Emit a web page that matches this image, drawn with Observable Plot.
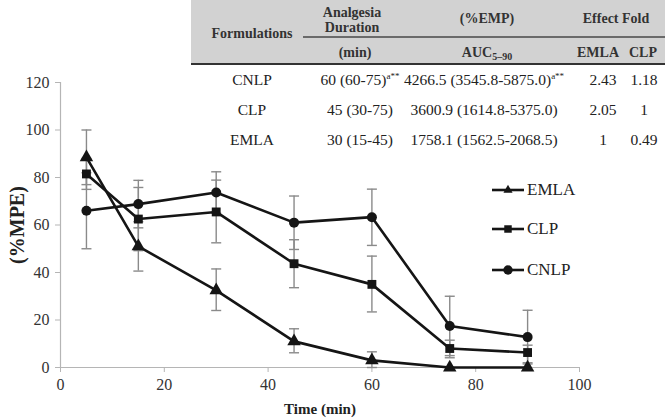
<!DOCTYPE html>
<html>
<head>
<meta charset="utf-8">
<script src="https://cdn.jsdelivr.net/npm/d3@7"></script>
<script src="https://cdn.jsdelivr.net/npm/@observablehq/plot@0.6"></script>
<style>
  body { margin: 0; background: #fff; }
  #wrap { position: relative; width: 665px; height: 419px; font-family: "Liberation Serif", "Times New Roman", serif; color: #222; overflow: hidden; }
  #wrap svg, #wrap svg text { font-family: "Liberation Serif", "Times New Roman", serif !important; }
  .abs { position: absolute; white-space: nowrap; }
  .c { transform: translate(-50%, -50%); }
  .b { font-weight: bold; }
  sup { font-size: 9px; vertical-align: 6px; line-height: 0; }
  sub { font-size: 10px; vertical-align: -3px; line-height: 0; }
</style>
</head>
<body>
<div id="wrap"></div>
<script>
// ---- data ----
const times = [5, 15, 30, 45, 60, 75, 90];
const emlaMean = [88.5, 51, 32.5, 11, 3, 0, 0];
const emlaHi   = [100, 61.4, 41.5, 16.3, 6.6, 0, 0];
const emlaLo   = [77, 40.6, 24, 6.2, 0, 0, 0];
const clpMean  = [81.5, 62.5, 65.5, 43.7, 35, 8, 6.3];
const clpHi    = [88, 75.8, 78.9, 53.8, 46.9, 11.5, 9.4];
const clpLo    = [75, 49.2, 52.5, 33.6, 23.4, 4.1, 2.0];
const cnlpMean = [66, 68.8, 73.7, 61, 63.3, 17.5, 12.8];
const cnlpHi   = [82, 78.8, 82.4, 72.2, 75.1, 30, 24.1];
const cnlpLo   = [50, 58.8, 65, 49.7, 51.4, 5, 1.5];
const seriesNames = ["EMLA", "CLP", "CNLP"];
const seriesSymbols = ["triangle", "square", "circle"];
const xTicks = [0, 20, 40, 60, 80, 100];
const yTicks = [0, 20, 40, 60, 80, 100, 120];

// table
const tblFormulations = ["CNLP", "CLP", "EMLA"];
const tblDuration = ["60 (60-75)", "45 (30-75)", "30 (15-45)"];
const tblDurationSup = ["a**", "", ""];
const tblAUC = ["4266.5 (3545.8-5875.0)", "3600.9 (1614.8-5375.0)", "1758.1 (1562.5-2068.5)"];
const tblAUCSup = ["a**", "", ""];
const tblFoldEMLA = ["2.43", "2.05", "1"];
const tblFoldCLP = ["1.18", "1", "0.49"];

// ---- build rows ----
const meanSets = [emlaMean, clpMean, cnlpMean];
const hiSets = [emlaHi, clpHi, cnlpHi];
const loSets = [emlaLo, clpLo, cnlpLo];
const rows = [];
seriesNames.forEach((s, i) => times.forEach((t, j) => rows.push({
  series: s, symbol: seriesSymbols[i], time: t, y: meanSets[i][j], hi: hiSets[i][j], lo: loSets[i][j]
})));
const errRows = rows.filter(d => d.hi !== d.lo);
const capSymbol = { draw(ctx, size) { const w = 5; ctx.moveTo(-w, 0); ctx.lineTo(w, 0); } };

const chart = Plot.plot({
  width: 665, height: 419,
  marginLeft: 60, marginRight: 86, marginTop: 82, marginBottom: 52,
  style: { fontFamily: "Liberation Serif, Times New Roman, serif", fontSize: "16px", color: "#333", background: "transparent" },
  x: { domain: [0, 100] },
  y: { domain: [0, 120] },
  symbol: { domain: seriesNames, range: seriesSymbols },
  marks: [
    Plot.ruleY([0], { stroke: "#b5b5b5", strokeWidth: 1.2 }),
    Plot.ruleX([0], { stroke: "#b5b5b5", strokeWidth: 1.2 }),
    Plot.axisY({ ticks: yTicks, tickSize: 5, tickPadding: 6, stroke: "#b5b5b5", fill: "#333", label: null, fontSize: 16, fontVariant: "normal" }),
    Plot.axisX({ ticks: xTicks, tickSize: 5, tickPadding: 6, stroke: "#b5b5b5", fill: "#333", label: null, fontSize: 16, fontVariant: "normal" }),
    Plot.ruleX(errRows, { x: "time", y1: "lo", y2: "hi", stroke: "#8a8a8a", strokeWidth: 1.4 }),
    Plot.dot(errRows, { x: "time", y: "hi", symbol: () => capSymbol, stroke: "#8a8a8a", strokeWidth: 1.4, r: 4 }),
    Plot.dot(errRows, { x: "time", y: "lo", symbol: () => capSymbol, stroke: "#8a8a8a", strokeWidth: 1.4, r: 4 }),
    Plot.line(rows, { x: "time", y: "y", z: "series", stroke: "#151515", strokeWidth: 2.6 }),
    Plot.dot(rows, { x: "time", y: "y", symbol: "series", fill: "#151515", stroke: "none", r: 5 })
  ]
});

const wrap = document.getElementById("wrap");
chart.style.position = "absolute";
chart.style.left = "0px";
chart.style.top = "0px";
wrap.appendChild(chart);

function addDiv(html, left, top, cls, css) {
  const d = document.createElement("div");
  d.className = "abs " + (cls || "");
  d.innerHTML = html;
  d.style.left = left + "px";
  d.style.top = top + "px";
  if (css) Object.assign(d.style, css);
  wrap.appendChild(d);
  return d;
}

// axis titles
addDiv("Time (min)", 320, 409, "c b", { fontSize: "15px", color: "#222" });
addDiv("(%MPE)", 17, 225, "b", { fontSize: "20px", color: "#222", transform: "translate(-50%, -50%) rotate(-90deg)" });

// legend
const leg = d3.select(wrap).append("svg")
  .style("position", "absolute").style("left", "480px").style("top", "170px")
  .attr("width", 60).attr("height", 120);
const legY = [20, 59, 100];
seriesNames.forEach((s, i) => {
  leg.append("line").attr("x1", 12).attr("x2", 44).attr("y1", legY[i]).attr("y2", legY[i])
    .attr("stroke", "#151515").attr("stroke-width", 2.6);
  leg.append("path").attr("transform", `translate(28,${legY[i]})`)
    .attr("d", d3.symbol(i === 0 ? d3.symbolTriangle : i === 1 ? d3.symbolSquare : d3.symbolCircle, i === 0 ? 36 : i === 1 ? 56 : 70)())
    .attr("fill", "#151515");
  addDiv(s, 527, 170 + legY[i], "", { fontSize: "17px", color: "#222", transform: "translateY(-50%)" });
});

// table
addDiv("", 191, 0, "", { width: "474px", height: "63px", background: "#d2d2d2" });
addDiv("", 303, 36, "", { width: "362px", height: "1.5px", background: "#6a6a6a" });
addDiv("", 191, 63, "", { width: "474px", height: "2px", background: "#333" });
const hdr = { fontSize: "14px", color: "#333", lineHeight: "15px", textAlign: "center" };
addDiv("Formulations", 252, 33, "c b", hdr);
addDiv("Analgesia<br>Duration", 352, 20, "c b", hdr);
addDiv("(min)", 355, 52, "c b", hdr);
addDiv("(%EMP)", 487, 18, "c b", hdr);
addDiv("AUC<sub>5–90</sub>", 487, 52, "c b", hdr);
addDiv("Effect Fold", 616, 18, "c b", hdr);
addDiv("EMLA", 598, 52, "c b", hdr);
addDiv("CLP", 643, 52, "c b", hdr);
const rowY = [80, 110, 140];
const cell = { fontSize: "15.5px", color: "#222" };
tblFormulations.forEach((f, i) => {
  addDiv(f, 252, rowY[i], "c", cell);
  addDiv(tblDuration[i] + (tblDurationSup[i] ? "<sup>" + tblDurationSup[i] + "</sup>" : ""), 360, rowY[i], "c", cell);
  addDiv(tblAUC[i] + (tblAUCSup[i] ? "<sup>" + tblAUCSup[i] + "</sup>" : ""), 484, rowY[i], "c", cell);
  addDiv(tblFoldEMLA[i], 603, rowY[i], "c", cell);
  addDiv(tblFoldCLP[i], 644, rowY[i], "c", cell);
});
</script>
</body>
</html>
